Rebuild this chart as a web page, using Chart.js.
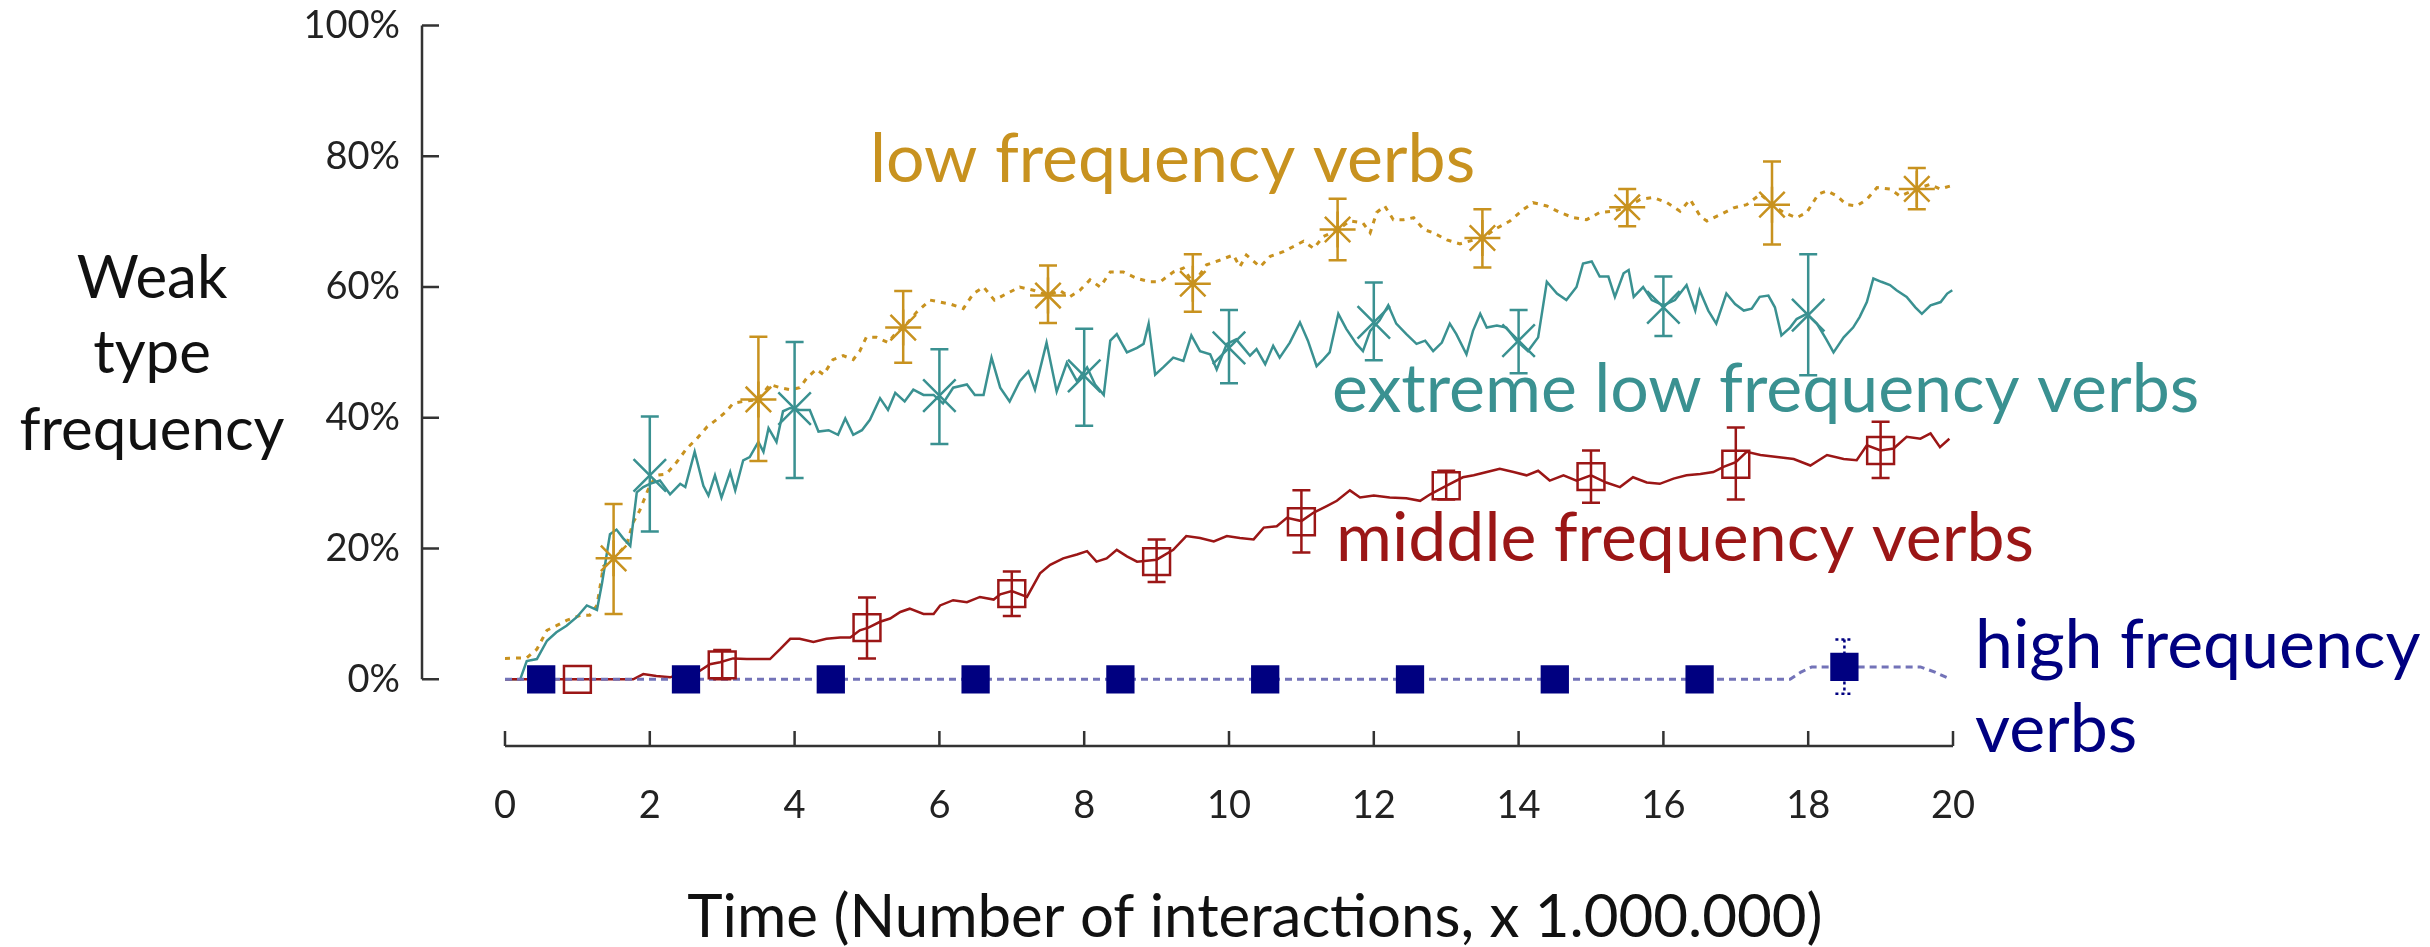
<!DOCTYPE html>
<html>
<head>
<meta charset="utf-8">
<script src="https://cdn.jsdelivr.net/npm/chart.js@4.4.1/dist/chart.umd.min.js"></script>
<style>
  html, body { margin: 0; padding: 0; background: #fff; }
  #wrap { width: 2430px; height: 947px; }
</style>
</head>
<body>
<div id="wrap"><canvas id="chart" width="2430" height="947"></canvas></div>
<script>
// ---- data (percent values, x in millions of interactions) ----
const xTicks = [0, 2, 4, 6, 8, 10, 12, 14, 16, 18, 20];
const yTicks = [0, 20, 40, 60, 80, 100];

// low frequency verbs: running line [x, y]
const lowLine = [[0,3.2],[0.3,3.3],[0.44,4.6],[0.58,7.5],[0.71,8.2],[0.85,9.0],[1.04,9.8],[1.17,9.8],[1.27,11.3],[1.36,17.3],[1.5,18.5],[1.68,20.6],[1.77,24.0],[1.86,25.8],[1.98,29.1],[2.09,31.2],[2.23,31.4],[2.37,33.2],[2.51,35.3],[2.65,36.8],[2.79,38.6],[2.92,39.7],[3.06,41.0],[3.15,42.2],[3.29,42.5],[3.5,42.8],[3.66,45.1],[3.8,44.6],[3.94,44.3],[4.07,44.6],[4.17,46.1],[4.3,47.4],[4.4,46.6],[4.53,48.9],[4.67,49.5],[4.81,48.9],[4.9,50.2],[4.99,52.3],[5.13,52.3],[5.29,51.5],[5.41,53.1],[5.5,53.8],[5.69,56.2],[5.87,58.0],[6.01,57.7],[6.15,57.4],[6.33,56.7],[6.47,59.0],[6.61,60.0],[6.76,58.0],[6.93,59.0],[7.11,60.0],[7.3,59.5],[7.5,58.7],[7.66,59.5],[7.8,58.5],[7.94,59.5],[8.08,61.1],[8.22,60.0],[8.36,62.3],[8.54,62.3],[8.73,61.3],[8.91,60.8],[9.05,60.8],[9.23,62.3],[9.37,62.9],[9.51,60.5],[9.69,63.4],[9.87,64.1],[10.06,64.9],[10.15,63.1],[10.24,64.9],[10.43,63.1],[10.57,64.7],[10.75,65.4],[10.89,66.2],[11.03,67.0],[11.17,65.9],[11.3,67.7],[11.51,68.8],[11.67,70.1],[11.85,69.8],[11.95,68.3],[12.04,71.4],[12.15,72.4],[12.27,70.3],[12.41,70.3],[12.55,70.6],[12.69,68.8],[12.82,68.3],[13.01,67.2],[13.19,66.6],[13.38,67.2],[13.5,67.5],[13.7,69.0],[13.88,70.1],[14.07,71.9],[14.2,72.9],[14.39,72.4],[14.57,71.4],[14.76,70.6],[14.94,70.3],[15.12,71.4],[15.31,71.6],[15.5,72.2],[15.68,73.4],[15.86,73.7],[16.05,72.9],[16.23,71.6],[16.37,73.4],[16.51,70.8],[16.6,70.1],[16.79,71.1],[16.97,72.1],[17.15,72.6],[17.34,74.2],[17.5,72.6],[17.66,71.4],[17.84,70.6],[17.98,71.4],[18.14,74.2],[18.26,74.7],[18.4,73.9],[18.53,72.6],[18.67,72.4],[18.81,73.4],[18.95,75.2],[19.13,75.0],[19.27,73.9],[19.5,75.0],[19.68,75.7],[19.82,75.0],[19.98,75.5]];

// extreme low frequency verbs
const extremeLine = [[0,0],[0.21,0],[0.3,2.8],[0.44,3.1],[0.58,5.9],[0.71,7.2],[0.85,8.2],[0.99,9.5],[1.13,11.3],[1.27,10.6],[1.34,14.7],[1.45,22.2],[1.54,22.9],[1.63,21.6],[1.73,20.4],[1.82,28.6],[1.91,29.4],[2.0,29.9],[2.14,30.4],[2.28,28.3],[2.42,29.9],[2.49,29.4],[2.62,34.8],[2.74,29.6],[2.81,28.1],[2.9,31.2],[2.99,27.8],[3.11,31.7],[3.18,28.9],[3.29,33.5],[3.38,34.0],[3.5,36.3],[3.57,34.8],[3.64,38.4],[3.75,36.3],[3.84,41.0],[3.94,41.5],[4.07,41.2],[4.21,41.2],[4.33,37.9],[4.47,38.1],[4.6,37.4],[4.7,39.9],[4.81,37.4],[4.93,38.1],[5.04,39.7],[5.18,43.0],[5.29,41.2],[5.39,43.8],[5.52,42.5],[5.64,44.3],[5.78,43.5],[5.92,43.5],[6.05,42.2],[6.19,44.6],[6.38,45.1],[6.49,43.5],[6.61,43.5],[6.72,49.2],[6.84,44.6],[6.97,42.5],[7.11,45.6],[7.23,47.1],[7.32,44.3],[7.48,51.5],[7.62,44.0],[7.76,48.4],[7.9,45.6],[8.04,47.7],[8.15,45.1],[8.27,43.5],[8.36,51.8],[8.45,52.8],[8.59,50.0],[8.73,50.7],[8.82,51.3],[8.89,54.4],[8.98,46.6],[9.09,47.7],[9.23,49.2],[9.37,48.7],[9.48,52.6],[9.6,50.2],[9.74,49.7],[9.83,47.4],[9.97,51.3],[10.1,52.0],[10.2,50.7],[10.29,49.5],[10.38,50.5],[10.5,48.2],[10.61,51.0],[10.7,49.2],[10.84,51.5],[10.98,54.6],[11.09,51.8],[11.21,47.9],[11.3,48.9],[11.39,50.0],[11.51,55.9],[11.62,53.6],[11.76,51.3],[11.85,50.2],[11.95,53.3],[12.08,54.9],[12.2,57.2],[12.31,54.4],[12.45,52.8],[12.59,51.3],[12.71,51.8],[12.82,50.2],[12.94,51.5],[13.05,54.4],[13.14,52.8],[13.28,49.7],[13.37,53.3],[13.47,55.9],[13.56,53.8],[13.7,54.1],[13.83,53.8],[13.97,51.8],[14.13,50.2],[14.27,52.3],[14.39,60.8],[14.53,59.0],[14.66,58.0],[14.8,60.0],[14.89,63.6],[15.01,63.9],[15.12,61.6],[15.24,61.6],[15.33,58.5],[15.45,62.1],[15.52,62.6],[15.59,58.5],[15.72,60.0],[15.84,58.0],[16.0,57.2],[16.16,58.0],[16.32,60.3],[16.44,56.4],[16.5,59.5],[16.62,56.4],[16.73,54.4],[16.87,59.0],[16.99,57.4],[17.11,56.4],[17.22,56.7],[17.33,58.5],[17.45,58.7],[17.54,56.9],[17.63,52.6],[17.75,53.8],[17.84,55.1],[17.98,55.9],[18.12,54.4],[18.25,52.0],[18.35,50.0],[18.49,52.3],[18.62,53.8],[18.71,55.4],[18.81,57.7],[18.9,61.3],[19.01,60.8],[19.13,60.3],[19.22,59.5],[19.36,58.5],[19.48,56.9],[19.57,55.9],[19.69,57.2],[19.83,57.7],[19.92,59.0],[19.99,59.5]];

// middle frequency verbs
const middleLine = [[0,0],[1.77,0],[1.91,0.8],[2.09,0.5],[2.28,0.3],[2.46,1.0],[2.65,1.0],[2.83,2.3],[2.97,2.6],[3.15,3.2],[3.34,3.1],[3.52,3.1],[3.66,3.1],[3.8,4.6],[3.94,6.2],[4.07,6.2],[4.26,5.7],[4.44,6.2],[4.63,6.4],[4.77,6.4],[4.9,7.5],[5.02,7.9],[5.18,8.8],[5.32,9.3],[5.46,10.3],[5.59,10.8],[5.78,10.0],[5.92,10.0],[6.01,11.3],[6.19,12.1],[6.38,11.8],[6.56,12.6],[6.75,12.2],[6.84,13.0],[7.0,13.5],[7.21,12.6],[7.39,16.2],[7.53,17.5],[7.71,18.5],[7.9,19.1],[8.04,19.6],[8.17,18.0],[8.31,18.5],[8.45,19.8],[8.59,18.8],[8.73,18.0],[9.0,18.3],[9.23,19.8],[9.41,21.9],[9.6,21.6],[9.79,21.1],[9.97,21.9],[10.15,21.6],[10.34,21.4],[10.48,23.2],[10.66,23.4],[10.8,24.7],[11.0,24.2],[11.17,25.5],[11.35,26.5],[11.49,27.3],[11.67,28.9],[11.81,27.8],[12.0,28.1],[12.22,27.8],[12.45,27.7],[12.64,27.3],[12.78,28.3],[13.0,29.6],[13.23,30.9],[13.38,31.2],[13.56,31.7],[13.74,32.2],[13.93,31.7],[14.11,31.2],[14.27,31.9],[14.43,30.4],[14.62,31.2],[14.8,30.4],[15.0,31.2],[15.21,30.1],[15.4,29.4],[15.58,30.9],[15.77,30.1],[15.95,29.9],[16.14,30.7],[16.32,31.2],[16.51,31.4],[16.69,31.7],[16.83,32.5],[17.0,33.2],[17.15,34.8],[17.34,34.3],[17.57,34.0],[17.8,33.7],[18.03,32.7],[18.26,34.3],[18.49,33.7],[18.67,33.5],[18.81,35.8],[19.0,35.0],[19.18,35.3],[19.36,37.1],[19.55,36.8],[19.69,37.6],[19.82,35.5],[19.95,36.8]];

// high frequency verbs
const highLine = [[0,0],[17.75,0],[17.9,1.1],[18.05,1.9],[19.55,1.9],[19.75,1.1],[19.97,0]];

// marker points with error bars
const lowMarkX = [1.5, 3.5, 5.5, 7.5, 9.5, 11.5, 13.5, 15.5, 17.5, 19.5];
const lowMarkY = [18.5, 42.8, 53.8, 58.7, 60.5, 68.8, 67.5, 72.2, 72.6, 75.0];
const lowErrLo = [10.0, 33.4, 48.4, 54.5, 56.2, 64.1, 63.0, 69.3, 66.5, 71.9];
const lowErrHi = [26.8, 52.4, 59.4, 63.3, 65.0, 73.5, 71.9, 75.0, 79.2, 78.2];

const extremeMarkX = [2, 4, 6, 8, 10, 12, 14, 16, 18];
const extremeMarkY = [31.2, 41.4, 43.4, 46.4, 50.7, 54.6, 51.8, 56.9, 55.7];
const extremeErrLo = [22.6, 30.8, 36.0, 38.8, 45.3, 48.8, 46.8, 52.5, 46.5];
const extremeErrHi = [40.2, 51.6, 50.5, 53.6, 56.5, 60.7, 56.5, 61.6, 65.0];

const middleMarkX = [1, 3, 5, 7, 9, 11, 13, 15, 17, 19];
const middleMarkY = [0, 2.2, 7.9, 13.1, 18.0, 24.1, 29.6, 31.0, 32.9, 35.0];
const middleErrLo = [0, 0, 3.2, 9.7, 14.9, 19.4, 27.5, 27.0, 27.5, 30.8];
const middleErrHi = [0, 4.5, 12.5, 16.5, 21.4, 28.9, 31.9, 35.0, 38.5, 39.4];

const highMarkX = [0.5, 2.5, 4.5, 6.5, 8.5, 10.5, 12.5, 14.5, 16.5, 18.5];
const highMarkY = [0, 0, 0, 0, 0, 0, 0, 0, 0, 1.9];
const highErrLo = [0, 0, 0, 0, 0, 0, 0, 0, 0, -2.2];
const highErrHi = [0, 0, 0, 0, 0, 0, 0, 0, 0, 6.1];

// ---- styling ----
const FONT = 'Lato, "Open Sans", sans-serif';
const GOLD = '#c8921f';
const TEAL = '#3a9191';
const RED = '#9b1616';
const NAVY = '#000080';

const linePts = pairs => pairs.map(p => ({ x: p[0], y: p[1] }));
const markPts = (xs, ys) => xs.map((x, i) => ({ x: x, y: ys[i] }));

const errorBars = [
    { xs: lowMarkX, lo: lowErrLo, hi: lowErrHi, color: GOLD },
    { xs: extremeMarkX, lo: extremeErrLo, hi: extremeErrHi, color: TEAL },
    { xs: middleMarkX, lo: middleErrLo, hi: middleErrHi, color: RED },
    { xs: highMarkX, lo: highErrLo, hi: highErrHi, color: NAVY, dash: [3, 3] }
];

// axes drawn offset from the plot (y axis left of x=0, x axis below 0%)
const axesPlugin = {
    id: 'offsetAxes',
    beforeDatasetsDraw(chart) {
        const { ctx, scales: { x, y } } = chart;
        const ax = x.left - 83;
        const ay = x.top;
        ctx.save();
        ctx.strokeStyle = '#333';
        ctx.lineWidth = 2.5;
        ctx.beginPath();
        ctx.moveTo(ax, y.getPixelForValue(0));
        ctx.lineTo(ax, y.getPixelForValue(100));
        yTicks.forEach(v => {
            const py = y.getPixelForValue(v);
            ctx.moveTo(ax, py);
            ctx.lineTo(ax + 17, py);
        });
        ctx.moveTo(x.getPixelForValue(0), ay);
        ctx.lineTo(x.getPixelForValue(20), ay);
        xTicks.forEach(v => {
            const px = x.getPixelForValue(v);
            ctx.moveTo(px, ay);
            ctx.lineTo(px, ay - 15);
        });
        ctx.stroke();
        ctx.restore();
    }
};

const errorBarPlugin = {
    id: 'errorBars',
    afterDatasetsDraw(chart) {
        const { ctx, scales: { x, y } } = chart;
        ctx.save();
        errorBars.forEach(eb => {
            ctx.strokeStyle = eb.color;
            ctx.lineWidth = 2.5;
            ctx.setLineDash(eb.dash || []);
            eb.xs.forEach((xv, i) => {
                if (eb.hi[i] === eb.lo[i]) return;
                const px = x.getPixelForValue(xv);
                const top = y.getPixelForValue(eb.hi[i]);
                const bot = y.getPixelForValue(eb.lo[i]);
                ctx.beginPath();
                ctx.moveTo(px, top); ctx.lineTo(px, bot);
                ctx.moveTo(px - 9, top); ctx.lineTo(px + 9, top);
                ctx.moveTo(px - 9, bot); ctx.lineTo(px + 9, bot);
                ctx.stroke();
            });
        });
        ctx.restore();
    }
};

const textPlugin = {
    id: 'labels',
    afterDraw(chart) {
        const ctx = chart.ctx;
        ctx.save();
        ctx.textBaseline = 'alphabetic';
        // y title
        ctx.fillStyle = '#111';
        ctx.textAlign = 'center';
        ctx.font = '60px ' + FONT;
        ctx.fillText('Weak', 152, 298);
        ctx.fillText('type', 152, 373);
        ctx.fillText('frequency', 152, 450);
        // x title
        ctx.font = '60px ' + FONT;
        ctx.fillText('Time (Number of interactions, x 1.000.000)', 1255, 937);
        // series labels
        ctx.textAlign = 'left';
        ctx.font = '68px ' + FONT;
        ctx.fillStyle = GOLD;
        ctx.fillText('low frequency verbs', 870, 182);
        ctx.fillStyle = TEAL;
        ctx.fillText('extreme low frequency verbs', 1332, 412);
        ctx.fillStyle = RED;
        ctx.fillText('middle frequency verbs', 1336, 561);
        ctx.fillStyle = NAVY;
        ctx.fillText('high frequency', 1975, 668);
        ctx.fillText('verbs', 1975, 752);
        ctx.restore();
    }
};

const ctx = document.getElementById('chart').getContext('2d');

new Chart(ctx, {
    type: 'line',
    data: {
        datasets: [
            // markers (drawn on top)
            { data: markPts(highMarkX, highMarkY), showLine: false, pointStyle: 'rect', pointRadius: 20,
              backgroundColor: NAVY, borderColor: NAVY, borderWidth: 0, order: 1 },
            { data: markPts(middleMarkX, middleMarkY), showLine: false, pointStyle: 'rect', pointRadius: 19,
              backgroundColor: 'rgba(0,0,0,0)', borderColor: RED, borderWidth: 2.5, order: 1 },
            { data: markPts(extremeMarkX, extremeMarkY), showLine: false, pointStyle: 'crossRot', pointRadius: 23,
              borderColor: TEAL, borderWidth: 2.5, order: 1 },
            { data: markPts(lowMarkX, lowMarkY), showLine: false, pointStyle: 'star', pointRadius: 18,
              borderColor: GOLD, borderWidth: 2.5, order: 1 },
            // running lines
            { data: linePts(highLine), borderColor: '#7373b8', borderWidth: 3, borderDash: [7, 5],
              pointRadius: 0, tension: 0, order: 2 },
            { data: linePts(middleLine), borderColor: RED, borderWidth: 2.5,
              pointRadius: 0, tension: 0, order: 3 },
            { data: linePts(extremeLine), borderColor: TEAL, borderWidth: 2.5,
              pointRadius: 0, tension: 0, order: 4 },
            { data: linePts(lowLine), borderColor: GOLD, borderWidth: 3, borderDash: [5, 6],
              pointRadius: 0, tension: 0, order: 5 }
        ]
    },
    options: {
        responsive: false,
        animation: false,
        devicePixelRatio: 1,
        layout: { padding: { left: 0, right: 477, top: 23, bottom: 0 } },
        plugins: {
            legend: { display: false },
            tooltip: { enabled: false }
        },
        scales: {
            x: {
                type: 'linear',
                min: 0,
                max: 20,
                grid: { display: false, drawTicks: false },
                border: { display: false },
                ticks: { stepSize: 2, color: '#222', padding: 37, font: { family: FONT, size: 38 } },
                afterBuildTicks: s => { s.ticks = xTicks.map(v => ({ value: v })); },
                afterFit: s => { s.height = 201; s.paddingLeft = 0; s.paddingRight = 0; }
            },
            y: {
                type: 'linear',
                min: -10.2,
                max: 100,
                grid: { display: false, drawTicks: false },
                border: { display: false },
                ticks: { color: '#222', padding: 105, font: { family: FONT, size: 38 },
                         callback: v => v + '%' },
                afterBuildTicks: s => { s.ticks = yTicks.map(v => ({ value: v })); },
                afterFit: s => { s.width = 505; s.paddingTop = 0; s.paddingBottom = 0; }
            }
        }
    },
    plugins: [axesPlugin, errorBarPlugin, textPlugin]
});
</script>
</body>
</html>
